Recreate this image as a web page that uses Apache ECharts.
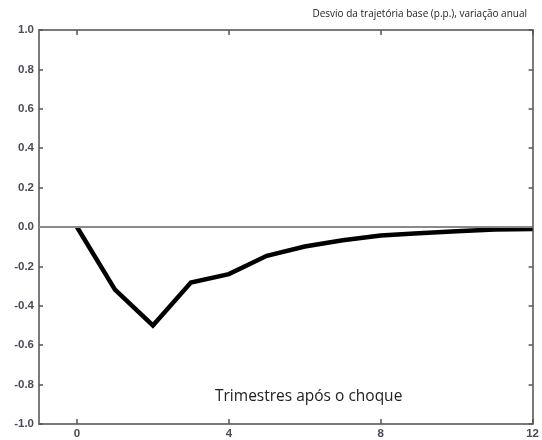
<!DOCTYPE html>
<html>
<head>
<meta charset="utf-8">
<script src="https://cdn.jsdelivr.net/npm/echarts@6/dist/echarts.min.js"></script>
<style>
  html, body { margin: 0; padding: 0; background: #fff; }
  #chart { width: 542px; height: 440px; }
</style>
</head>
<body>
<div id="chart"></div>
<script>
// Quarters after the shock and the response (deviation from baseline, p.p.)
const quarters = [0, 1, 2, 3, 4, 5, 6, 7, 8, 9, 10, 11, 12];
const response = [0, -0.318, -0.5, -0.282, -0.239, -0.146, -0.099, -0.067, -0.043, -0.032, -0.021, -0.013, -0.010];
const xTicks = [0, 4, 8, 12];
const titleText = 'Desvio da trajetória base (p.p.), variação anual';
const xName = 'Trimestres após o choque';

const axisColor = '#7a7a7a';
const labelStyle = { color: '#4a4a58', fontFamily: 'Liberation Sans', fontWeight: 'bold', fontSize: 11.5 };

const chart = echarts.init(document.getElementById('chart'), null, { renderer: 'canvas' });
chart.setOption({
  animation: false,
  backgroundColor: '#fff',
  grid: { left: 39, right: 3, top: 30, bottom: 15, containLabel: false },
  title: {
    text: titleText,
    right: 10, top: 4,
    textStyle: { fontFamily: 'Open Sans', fontSize: 10, fontWeight: 'normal', color: '#222' }
  },
  graphic: [{
    type: 'text',
    left: 215, top: 389,
    style: { text: xName, font: '15.5px "Open Sans"', fill: '#222' }
  }],
  xAxis: [{
    type: 'value', min: -1, max: 12, position: 'bottom',
    axisLine: { show: true, onZero: false, lineStyle: { color: axisColor, width: 2 } },
    axisTick: { show: true, inside: true, length: 5, customValues: xTicks, lineStyle: { color: '#555', width: 1.5 } },
    axisLabel: { show: true, customValues: xTicks, margin: 4, ...labelStyle },
    splitLine: { show: false }
  }, {
    type: 'value', min: -1, max: 12, position: 'top',
    axisLine: { show: true, onZero: false, lineStyle: { color: axisColor, width: 2 } },
    axisTick: { show: true, inside: true, length: 5, customValues: xTicks, lineStyle: { color: '#555', width: 1.5 } },
    axisLabel: { show: false },
    splitLine: { show: false }
  }],
  yAxis: [{
    type: 'value', min: -1, max: 1, interval: 0.2, position: 'left',
    axisLine: { show: true, onZero: false, lineStyle: { color: axisColor, width: 2 } },
    axisTick: { show: true, inside: true, length: 4, lineStyle: { color: '#555', width: 1.5 } },
    axisLabel: { show: true, margin: 5, formatter: v => v.toFixed(1), ...labelStyle },
    splitLine: { show: false }
  }, {
    type: 'value', min: -1, max: 1, interval: 0.2, position: 'right',
    axisLine: { show: true, onZero: false, lineStyle: { color: axisColor, width: 2 } },
    axisTick: { show: true, inside: true, length: 4, lineStyle: { color: '#555', width: 1.5 } },
    axisLabel: { show: false },
    splitLine: { show: false }
  }],
  series: [{
    type: 'line',
    data: quarters.map((q, i) => [q, response[i]]),
    showSymbol: false,
    lineStyle: { color: '#000', width: 4.5, join: 'miter' },
    markLine: {
      silent: true, symbol: 'none', label: { show: false },
      lineStyle: { color: '#8a8a8a', width: 2, type: 'solid' },
      data: [{ yAxis: 0 }]
    },
    z: 3
  }]
});
</script>
</body>
</html>
